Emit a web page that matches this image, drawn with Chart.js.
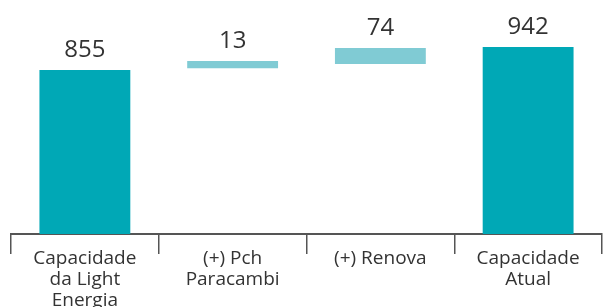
<!DOCTYPE html>
<html>
<head>
<meta charset="utf-8">
<script src="https://cdn.jsdelivr.net/npm/chart.js@4/dist/chart.umd.min.js"></script>
<style>
  html, body { margin: 0; padding: 0; background: #ffffff; }
  #wrap { width: 603px; height: 307px; position: relative; }
</style>
</head>
<body>
<div id="wrap"><canvas id="c" width="603" height="307"></canvas></div>
<script>
// Categories (multi-line labels)
const categories = [
  ["Capacidade", "da Light", "Energia"],
  ["(+) Pch", "Paracambi"],
  ["(+) Renova"],
  ["Capacidade", "Atual"]
];
// Values shown above the bars
const valueLabels = [855, 13, 74, 942];
// Bar extents as drawn in the picture (axis units)
const barLow  = [0, 862, 878, 0];
const barHigh = [855, 889, 938, 942];
const barColors = ["#00A8B6", "#80CBD4", "#80CBD4", "#00A8B6"];

const floating = barLow.map((lo, i) => [lo, barHigh[i]]);

const valueLabelPlugin = {
  id: 'valueLabels',
  afterDatasetsDraw(chart) {
    const ctx = chart.ctx;
    const meta = chart.getDatasetMeta(0);
    ctx.save();
    ctx.font = '24px "Open Sans"';
    ctx.fillStyle = '#333333';
    ctx.textAlign = 'center';
    ctx.textBaseline = 'alphabetic';
    meta.data.forEach((bar, i) => {
      const top = Math.min(bar.y, bar.base);
      ctx.fillText(String(valueLabels[i]), bar.x, top - 13);
    });
    ctx.restore();
  }
};

new Chart(document.getElementById('c'), {
  type: 'bar',
  data: {
    labels: categories,
    datasets: [{
      data: floating,
      backgroundColor: barColors,
      borderWidth: 0,
      categoryPercentage: 1,
      barPercentage: 0.615
    }]
  },
  options: {
    responsive: false,
    animation: false,
    devicePixelRatio: 1,
    layout: { padding: { left: 11, right: 1, top: 0, bottom: 0 } },
    plugins: {
      legend: { display: false },
      tooltip: { enabled: false }
    },
    scales: {
      y: {
        display: false,
        min: 235,
        max: 1120
      },
      x: {
        afterFit(scale) { scale.height = 73; },
        grid: {
          display: true,
          offset: true,
          drawOnChartArea: false,
          drawTicks: true,
          tickLength: 20,
          color: '#555555',
          lineWidth: 1.5
        },
        border: { display: true, color: '#555555', width: 2 },
        ticks: {
          color: '#333333',
          font: { family: '"Open Sans"', size: 19, lineHeight: 1.1 },
          padding: -6,
          maxRotation: 0,
          autoSkip: false
        }
      }
    }
  },
  plugins: [valueLabelPlugin]
});
</script>
</body>
</html>
